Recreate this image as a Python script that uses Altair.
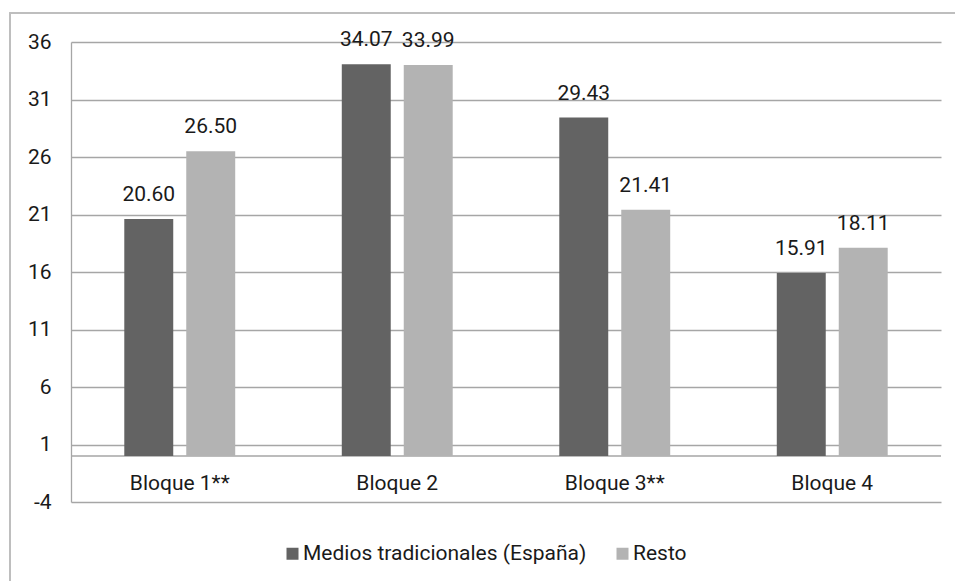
import altair as alt
import pandas as pd

# Survey scores by block, traditional Spanish media vs. the rest
bloques = ["Bloque 1**", "Bloque 2", "Bloque 3**", "Bloque 4"]
series = ["Medios tradicionales (España)", "Resto"]
medios_tradicionales = [20.60, 34.07, 29.43, 15.91]
resto = [26.50, 33.99, 21.41, 18.11]
y_ticks = [-4, 1, 6, 11, 16, 21, 26, 31, 36]

rows = []
for i, b in enumerate(bloques):
    rows.append({"bloque": b, "serie": series[0], "valor": medios_tradicionales[i]})
    rows.append({"bloque": b, "serie": series[1], "valor": resto[i]})
df = pd.DataFrame(rows)
cats = pd.DataFrame({"bloque": bloques})

FONT = "Roboto"
FS = 21
TEXT = "#1a1a1a"
GRID = "#a6a6a6"

x_enc = alt.X("bloque:N", sort=bloques, axis=None,
              scale=alt.Scale(paddingInner=0.49, paddingOuter=0.245))
x_off = alt.XOffset("serie:N", sort=series,
                    scale=alt.Scale(paddingInner=0.21, paddingOuter=0))
y_scale = alt.Scale(domain=[-4, 36], nice=False, zero=False)

base = alt.Chart(df)

bars = base.mark_bar().encode(
    x=x_enc,
    xOffset=x_off,
    y=alt.Y("valor:Q", scale=y_scale,
            axis=alt.Axis(values=y_ticks, title=None, ticks=False,
                          labelPadding=20, labelFontSize=FS, labelFont=FONT,
                          labelColor=TEXT, gridColor=GRID, gridWidth=1.3,
                          domainColor=GRID, domainWidth=1.3,
                          labelExpr="'' + datum.value")),
    y2=alt.datum(0),
    color=alt.Color("serie:N", sort=series,
                    scale=alt.Scale(domain=series, range=["#636363", "#b3b3b3"]),
                    legend=alt.Legend(title=None, orient="none", direction="horizontal",
                                      legendX=211, legendY=501,
                                      symbolType="square", symbolSize=144,
                                      symbolStrokeWidth=0, labelOffset=0,
                                      labelFontSize=FS, labelFont=FONT,
                                      labelLimit=0, labelColor=TEXT,
                                      columnPadding=25)),
)

labels = base.mark_text(baseline="alphabetic", dy=-18, fontSize=FS, font=FONT,
                        color=TEXT).encode(
    x=x_enc,
    xOffset=x_off,
    y=alt.Y("valor:Q", scale=y_scale),
    text=alt.Text("valor:Q", format=".2f"),
)

zero_line = alt.Chart(pd.DataFrame({"v": [0]})).mark_rule(
    color=GRID, strokeWidth=1.3).encode(y=alt.Y("v:Q", scale=y_scale))

cat_labels = alt.Chart(cats).mark_text(
    baseline="alphabetic", dy=11, fontSize=FS, font=FONT, color=TEXT).encode(
    x=x_enc,
    y=alt.datum(-2),
    text="bloque:N",
)

frame = alt.Chart(cats).mark_rect(
    fill=None, stroke="#bfbfbf", strokeWidth=1.5, clip=False).encode(
    x=alt.value(-61), x2=alt.value(885), y=alt.value(-29), y2=alt.value(560))

chart = alt.layer(frame, zero_line, bars, labels, cat_labels).properties(
    width=870, height=460,
    padding={"left": 71, "top": 42, "right": 14, "bottom": 79},
    autosize=alt.AutoSizeParams(type="none"),
    background="white",
).configure_view(stroke=None)

chart.save("out.html", embed_options={"renderer": "svg", "actions": False})
